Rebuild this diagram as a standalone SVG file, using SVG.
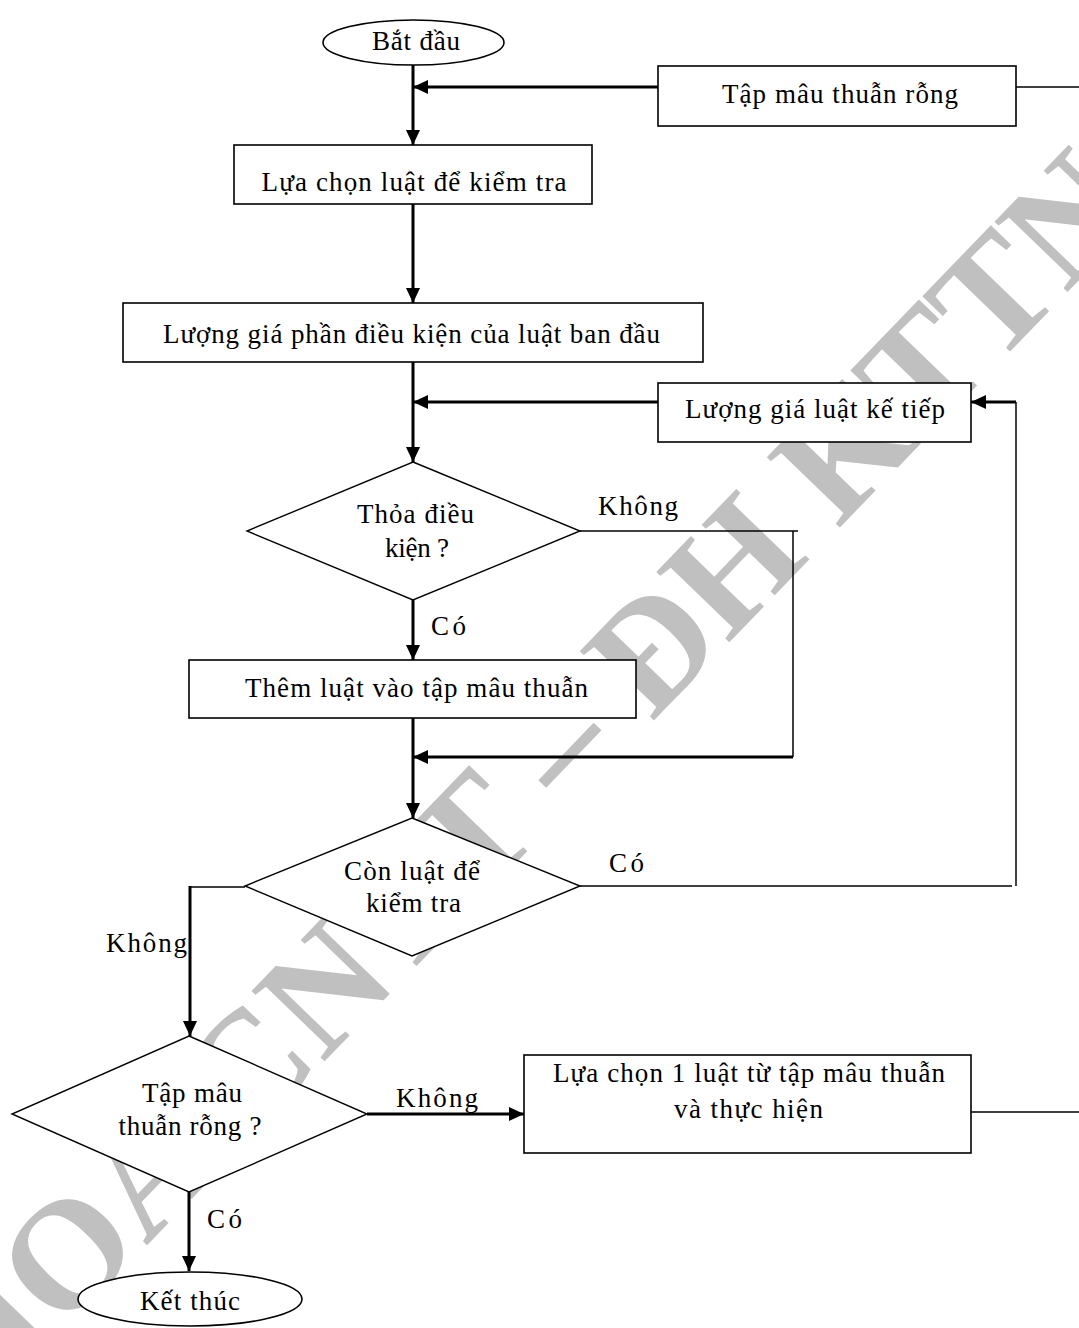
<svg xmlns="http://www.w3.org/2000/svg" width="1079" height="1328" viewBox="0 0 1079 1328">
  <style>
    .box { fill: #fff; stroke: #000; stroke-width: 1.6; }
    .dia { fill: #fff; stroke: #000; stroke-width: 1.4; }
    .thick { fill: none; stroke: #000; stroke-width: 3; }
    .thin { fill: none; stroke: #000; stroke-width: 1.5; }
    text { font-family: "Liberation Serif", "Times New Roman", serif; font-size: 27px; fill: #000; }
    .c { text-anchor: middle; }
    .mark { font-family: "Liberation Serif", "Times New Roman", serif; font-weight: bold; font-size: 155px; fill: #c0c0c0; text-anchor: middle; }
  </style>
  <defs>
    <marker id="ah" markerUnits="userSpaceOnUse" markerWidth="16" markerHeight="14" refX="15" refY="7" orient="auto">
      <path d="M0,0 L15,7 L0,14 z" fill="#000"/>
    </marker>
  </defs>

  <rect width="1079" height="1328" fill="#fff"/>

  <!-- background watermark -->
  <text class="mark" transform="translate(519,860) rotate(-46)">KHOA CNTT – ĐH KTTN</text>

  <g id="connectors">
    <!-- start -> choose rule -->
    <line class="thick" x1="413" y1="65" x2="413" y2="145" marker-end="url(#ah)"/>
    <!-- empty conflict set -> back to choose rule -->
    <line class="thick" x1="658" y1="87" x2="413" y2="87" marker-end="url(#ah)"/>
    <line class="thin" x1="1016" y1="87" x2="1079" y2="87"/>
    <!-- choose rule -> evaluate first rule -->
    <line class="thick" x1="413" y1="204" x2="413" y2="303" marker-end="url(#ah)"/>
    <!-- evaluate -> condition test -->
    <line class="thick" x1="413" y1="362" x2="413" y2="462" marker-end="url(#ah)"/>
    <!-- next rule -> merge into condition test -->
    <line class="thick" x1="658" y1="402" x2="413" y2="402" marker-end="url(#ah)"/>
    <!-- loop back into next rule -->
    <line class="thick" x1="1016" y1="402" x2="971" y2="402" marker-end="url(#ah)"/>
    <polyline class="thin" points="1016,402 1016,886"/>
    <!-- condition not met: bypass -->
    <polyline class="thin" points="580,531 798,531"/>
    <polyline class="thin" points="793,531 793,757"/>
    <line class="thick" x1="793" y1="757" x2="413" y2="757" marker-end="url(#ah)"/>
    <!-- condition met -> add rule -->
    <line class="thick" x1="413" y1="600" x2="413" y2="660" marker-end="url(#ah)"/>
    <!-- add rule -> more rules test -->
    <line class="thick" x1="413" y1="718" x2="413" y2="818" marker-end="url(#ah)"/>
    <!-- more rules: yes -> loop -->
    <line class="thin" x1="580" y1="886" x2="1012" y2="886"/>
    <!-- more rules: no -> conflict set test -->
    <polyline class="thin" points="245,887 190,887"/>
    <line class="thick" x1="190" y1="886" x2="190" y2="1036" marker-end="url(#ah)"/>
    <!-- conflict set not empty -> fire a rule -->
    <line class="thick" x1="367" y1="1114" x2="524" y2="1114" marker-end="url(#ah)"/>
    <line class="thin" x1="971" y1="1112" x2="1079" y2="1112"/>
    <!-- conflict set empty -> end -->
    <line class="thick" x1="189" y1="1192" x2="189" y2="1271" marker-end="url(#ah)"/>

    <!-- branch labels -->
    <text x="598" y="515" textLength="80">Không</text>
    <text x="431" y="635" textLength="35">Có</text>
    <text x="609" y="872" textLength="35">Có</text>
    <text x="106" y="952" textLength="81">Không</text>
    <text x="396" y="1107" textLength="82">Không</text>
    <text x="207" y="1228" textLength="35">Có</text>
  </g>

  <g id="start">
    <ellipse class="box" cx="413.5" cy="42.5" rx="90.5" ry="22.5"/>
    <text class="c" x="416" y="50" font-size="24" textLength="88">Bắt đầu</text>
  </g>

  <g id="empty-set">
    <rect class="box" x="658" y="66" width="358" height="60"/>
    <text class="c" x="840" y="103" textLength="236">Tập mâu thuẫn rỗng</text>
  </g>

  <g id="choose-rule">
    <rect class="box" x="234" y="145" width="358" height="59"/>
    <text class="c" x="414" y="191" textLength="305">Lựa chọn luật để kiểm tra</text>
  </g>

  <g id="evaluate-first">
    <rect class="box" x="123" y="303" width="580" height="59"/>
    <text class="c" x="411.5" y="343" textLength="497">Lượng giá phần điều kiện của luật ban đầu</text>
  </g>

  <g id="evaluate-next">
    <rect class="box" x="658" y="383" width="313" height="59"/>
    <text class="c" x="815" y="418" textLength="260">Lượng giá luật kế tiếp</text>
  </g>

  <g id="condition-test">
    <polygon class="dia" points="413,462 580,531 413,600 247,531"/>
    <text class="c" x="415.5" y="523" textLength="117">Thỏa điều</text>
    <text class="c" x="417" y="557" textLength="64">kiện ?</text>
  </g>

  <g id="add-rule">
    <rect class="box" x="189" y="660" width="447" height="58"/>
    <text class="c" x="416.5" y="697" textLength="343">Thêm luật vào tập mâu thuẫn</text>
  </g>

  <g id="more-rules-test">
    <polygon class="dia" points="412,818 580,886 412,956 245,886"/>
    <text class="c" x="412" y="880" textLength="136">Còn luật để</text>
    <text class="c" x="413.5" y="912" textLength="95">kiểm tra</text>
  </g>

  <g id="conflict-set-test">
    <polygon class="dia" points="189,1036 367,1114 189,1192 12,1114"/>
    <text class="c" x="192" y="1102" textLength="100">Tập mâu</text>
    <text class="c" x="190" y="1135" textLength="143">thuẫn rỗng ?</text>
  </g>

  <g id="fire-rule">
    <rect class="box" x="524" y="1055" width="447" height="98"/>
    <text class="c" x="749" y="1082" textLength="392">Lựa chọn 1 luật từ tập mâu thuẫn</text>
    <text class="c" x="748.5" y="1118" textLength="149">và thực hiện</text>
  </g>

  <g id="end">
    <ellipse class="box" cx="190" cy="1299" rx="112" ry="27"/>
    <text class="c" x="190" y="1310" textLength="100">Kết thúc</text>
  </g>
</svg>
